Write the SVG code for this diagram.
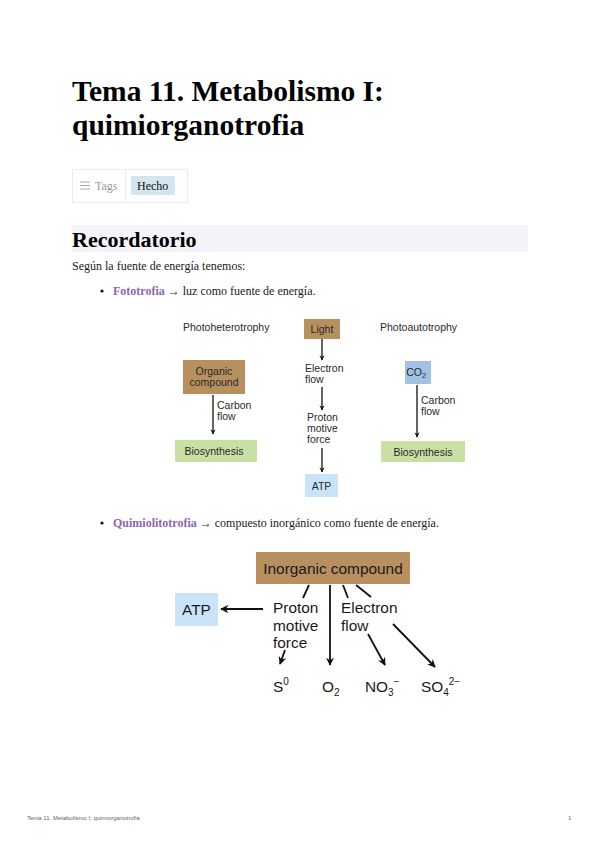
<svg xmlns="http://www.w3.org/2000/svg" width="600" height="848" viewBox="0 0 600 848">
<style>
.serif{font-family:"Liberation Serif","Times New Roman",serif}
.sans{font-family:"Liberation Sans",Arial,sans-serif}
.title{font-size:29.5px;font-weight:bold;fill:#000}
.body{font-size:12px;fill:#1a1a1a}
.purple{fill:#9065b0;font-weight:bold}
.fig1{font-size:10.5px;fill:#2a2a2a}
.fig2{font-size:15.4px;fill:#1a1a1a}
.ln{stroke:#111;stroke-width:1.3;fill:none}
.ln2{stroke:#111;stroke-width:1.8;fill:none}
.brown{fill:#b8905f}
.green{fill:#c9e0a5}
.lblue{fill:#c9e4f8}
.mblue{fill:#a2c2e4}
</style>
<defs>
<marker id="ah" viewBox="0 0 10 10" refX="9" refY="5" markerWidth="4" markerHeight="5" orient="auto" markerUnits="strokeWidth">
<path d="M0,0 L10,5 L0,10 L3,5 Z" fill="#111"/>
</marker>
<marker id="ah2" viewBox="0 0 10 10" refX="9" refY="5" markerWidth="4.5" markerHeight="4.5" orient="auto" markerUnits="strokeWidth">
<path d="M0,0 L10,5 L0,10 L3,5 Z" fill="#111"/>
</marker>
</defs>

<g id="header">
<text class="serif title" x="72" y="101">Tema 11. Metabolismo I:</text>
<text class="serif title" x="72" y="135">quimiorganotrofia</text>
</g>

<g id="tags">
<rect x="72.5" y="169.5" width="115" height="33" fill="#fff" stroke="#ececec"/>
<line x1="125.5" y1="169.5" x2="125.5" y2="202.5" stroke="#ececec"/>
<g stroke="#aaa" stroke-width="1">
<line x1="80" y1="182" x2="90" y2="182"/>
<line x1="80" y1="185.5" x2="90" y2="185.5"/>
<line x1="80" y1="189" x2="90" y2="189"/>
</g>
<text class="serif" x="95" y="190" font-size="12" fill="#999">Tags</text>
<rect x="131" y="176" width="44" height="19" rx="2" fill="#d3e5ef"/>
<text class="serif" x="137" y="190" font-size="12" fill="#111">Hecho</text>
</g>

<g id="recordatorio">
<rect x="72" y="225" width="456" height="27" fill="#f4f3f8"/>
<text class="serif" x="72" y="247" font-size="22" font-weight="bold" fill="#000">Recordatorio</text>
<text class="serif body" x="72" y="270">Según la fuente de energía tenemos:</text>
<circle cx="102" cy="291" r="1.6" fill="#111"/>
<text class="serif body" x="113" y="295"><tspan class="purple">Fototrofia</tspan> → luz como fuente de energía.</text>
<circle cx="102" cy="523" r="1.6" fill="#111"/>
<text class="serif body" x="113" y="527"><tspan class="purple">Quimiolitotrofia</tspan> → compuesto inorgánico como fuente de energía.</text>
</g>

<g id="fig1-labels">
<text class="sans fig1" x="183" y="331">Photoheterotrophy</text>
<text class="sans fig1" x="380" y="331">Photoautotrophy</text>
</g>

<g id="light">
<rect class="brown" x="304" y="319" width="36" height="20"/>
<text class="sans fig1" x="322" y="333" text-anchor="middle">Light</text>
</g>
<g id="organic-compound">
<rect class="brown" x="183" y="360" width="62" height="34"/>
<text class="sans fig1" x="214" y="375" text-anchor="middle">Organic</text>
<text class="sans fig1" x="214" y="386" text-anchor="middle">compound</text>
</g>
<g id="biosynthesis-left">
<rect class="green" x="175" y="440" width="82" height="22"/>
<text class="sans fig1" x="214" y="455" text-anchor="middle">Biosynthesis</text>
</g>
<g id="co2">
<rect class="mblue" x="405" y="361" width="26" height="23"/>
<text class="sans fig1" x="416" y="376" text-anchor="middle">CO<tspan font-size="7" dy="2">2</tspan></text>
</g>
<g id="biosynthesis-right">
<rect class="green" x="381" y="441" width="84" height="21"/>
<text class="sans fig1" x="423" y="456" text-anchor="middle">Biosynthesis</text>
</g>
<g id="atp-small">
<rect class="lblue" x="305" y="474" width="33" height="23"/>
<text class="sans fig1" x="321.5" y="490" text-anchor="middle">ATP</text>
</g>
<g id="fig1-text">
<text class="sans fig1" x="217" y="409">Carbon</text>
<text class="sans fig1" x="217" y="420">flow</text>
<text class="sans fig1" x="305" y="372">Electron</text>
<text class="sans fig1" x="305" y="383">flow</text>
<text class="sans fig1" x="307" y="421">Proton</text>
<text class="sans fig1" x="307" y="432">motive</text>
<text class="sans fig1" x="307" y="443">force</text>
<text class="sans fig1" x="421" y="404">Carbon</text>
<text class="sans fig1" x="421" y="415">flow</text>
</g>

<g id="inorganic-compound">
<rect class="brown" x="256" y="552" width="154" height="32"/>
<text class="sans fig2" x="333" y="574" text-anchor="middle">Inorganic compound</text>
</g>
<g id="atp">
<rect class="lblue" x="175" y="593" width="43" height="33"/>
<text class="sans fig2" x="196.5" y="615" text-anchor="middle">ATP</text>
</g>
<g id="fig2-text">
<text class="sans fig2" x="273" y="613">Proton</text>
<text class="sans fig2" x="273" y="631">motive</text>
<text class="sans fig2" x="273" y="648">force</text>
<text class="sans fig2" x="341" y="613">Electron</text>
<text class="sans fig2" x="341" y="631">flow</text>
</g>
<g id="products">
<text class="sans fig2" x="273" y="692">S<tspan font-size="10" dy="-7">0</tspan></text>
<text class="sans fig2" x="322" y="692">O<tspan font-size="10" dy="4">2</tspan></text>
<text class="sans fig2" x="365" y="692">NO<tspan font-size="10" dy="4">3</tspan><tspan font-size="10" dy="-11">−</tspan></text>
<text class="sans fig2" x="421" y="692">SO<tspan font-size="10" dy="4">4</tspan><tspan font-size="10" dy="-11">2−</tspan></text>
</g>

<g id="connectors">
<line class="ln" x1="322" y1="339" x2="322" y2="360" marker-end="url(#ah)"/>
<line class="ln" x1="322" y1="387" x2="322" y2="410" marker-end="url(#ah)"/>
<line class="ln" x1="322" y1="448" x2="322" y2="472" marker-end="url(#ah)"/>
<line class="ln" x1="213" y1="395" x2="213" y2="434" marker-end="url(#ah)"/>
<line class="ln" x1="417" y1="385" x2="417" y2="437" marker-end="url(#ah)"/>

<line class="ln2" x1="263" y1="609" x2="221" y2="609" marker-end="url(#ah2)"/>
<line class="ln2" x1="309" y1="585" x2="303" y2="598"/>
<line class="ln2" x1="330" y1="585" x2="330" y2="665" marker-end="url(#ah2)"/>
<line class="ln2" x1="343" y1="585" x2="348" y2="598"/>
<line class="ln2" x1="356" y1="585" x2="371" y2="597"/>
<line class="ln2" x1="285" y1="650" x2="280" y2="664" marker-end="url(#ah2)"/>
<line class="ln2" x1="368" y1="634" x2="385" y2="665" marker-end="url(#ah2)"/>
<line class="ln2" x1="393" y1="624" x2="435" y2="667" marker-end="url(#ah2)"/>
</g>

<g id="footer">
<text class="sans" x="27" y="820" font-size="6" fill="#666">Tema 11. Metabolismo I: quimiorganotrofia</text>
<text class="sans" x="568" y="820" font-size="6" fill="#666">1</text>
</g>
</svg>
